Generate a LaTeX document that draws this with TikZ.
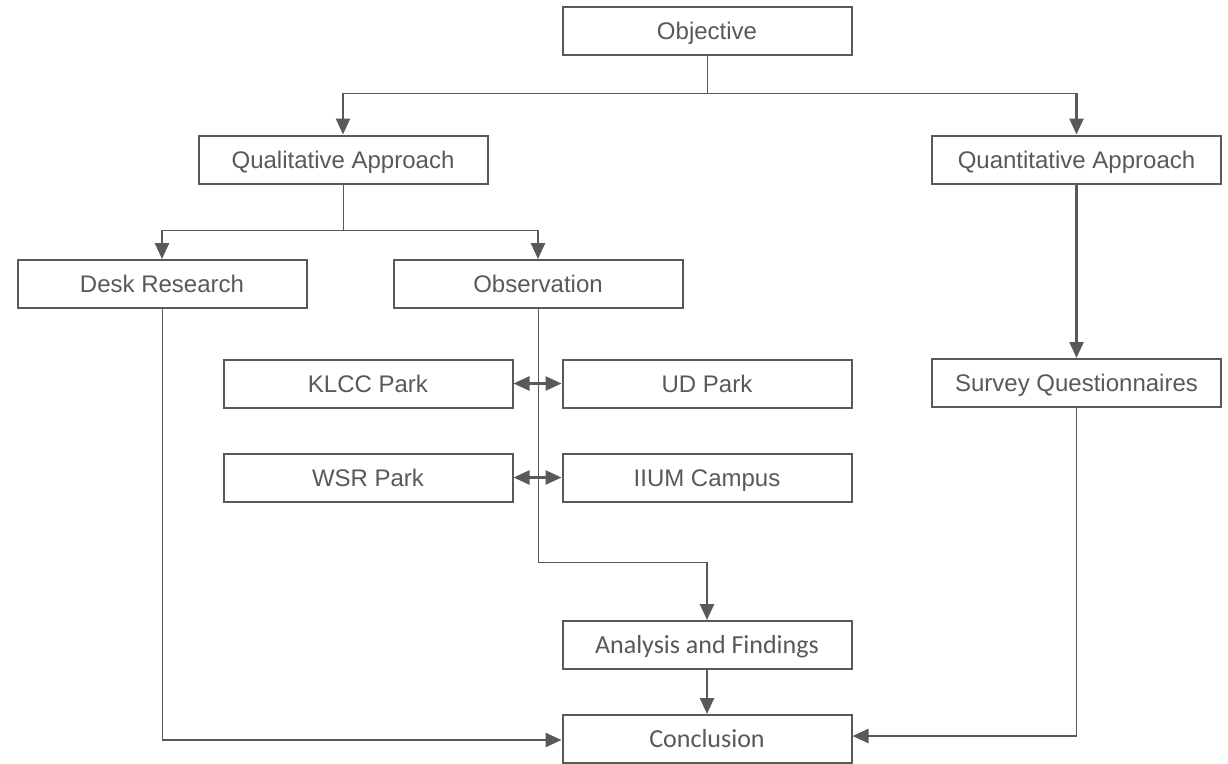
\documentclass[tikz,border=0pt]{standalone}
\usepackage{fontspec}
\setmainfont{Liberation Sans}
\newfontfamily\calibrifont{Carlito}
\usetikzlibrary{arrows.meta}
\definecolor{ink}{HTML}{595959}
\begin{document}
\begin{tikzpicture}[x=1pt,y=-1pt,
  box/.style={draw=ink, line width=2pt, text=ink, minimum width=289pt, minimum height=48pt, inner sep=0pt, text height=17pt, text depth=0pt, font=\fontsize{24}{28}\selectfont},
  cbox/.style={box, text height=16.5pt, font=\calibrifont\fontsize{26}{30}\selectfont},
  conn/.style={draw=ink, line width=1pt},
  arr/.style={draw=ink, line width=2.5pt, -{Triangle[length=16pt,width=14pt]}},
  darr/.style={draw=ink, line width=2.5pt, {Triangle[length=16pt,width=14pt]}-{Triangle[length=16pt,width=14pt]}}]
\useasboundingbox (0,0) rectangle (1228,763);
\fill[white] (0,0) rectangle (1228,763);

\node[box] (obj) at (707,31) {Objective};
\node[box] (qual) at (343,159.5) {Qualitative Approach};
\node[box] (quan) at (1076.5,159.5) {Quantitative Approach};
\node[box] (desk) at (162,284) {Desk Research};
\node[box] (obs) at (538,284) {Observation};
\node[box] (klcc) at (368,383.5) {KLCC Park};
\node[box] (ud) at (707,383.5) {UD Park};
\node[box] (surv) at (1076.5,383) {Survey Questionnaires};
\node[box] (wsr) at (368,477.5) {WSR Park};
\node[box] (iium) at (707,477.5) {IIUM Campus};
\node[cbox] (ana) at (707,645) {Analysis and Findings};
\node[cbox] (conc) at (707,739) {Conclusion};

\coordinate (t1) at (707,93);
\coordinate (tq) at (343,93);
\coordinate (tn) at (1076.5,93);
\coordinate (t2) at (343,230);
\coordinate (td) at (162,230);
\coordinate (to) at (538,230);
\coordinate (dl) at (162,740);
\coordinate (sr) at (1076.5,736);
\coordinate (o1) at (538,562);
\coordinate (o2) at (707,562);

% Objective branches
\draw[conn] (obj.south) -- (t1);
\draw[conn] (tq) -- (tn);
\draw[arr] (tq) -- (qual.north);
\draw[arr] (tn) -- (quan.north);

% Qualitative branches
\draw[conn] (qual.south) -- (t2);
\draw[conn] (td) -- (to);
\draw[arr] (td) -- (desk.north);
\draw[arr] (to) -- (obs.north);

% Quantitative
\draw[arr] (quan.south) -- (surv.north);

% Parks
\draw[darr] (klcc.east) -- (ud.west);
\draw[darr] (wsr.east) -- (iium.west);

% Observation to analysis
\draw[conn] (obs.south) -- (o1) -- (o2);
\draw[arr] (o2) -- (ana.north);
\draw[arr] (ana.south) -- (conc.north);

% Desk research to conclusion
\draw[conn] (desk.south) -- (dl);
\draw[arr] (dl) -- (dl -| conc.west);

% Survey to conclusion
\draw[conn] (surv.south) -- (sr);
\draw[arr] (sr) -- (sr -| conc.east);
\end{tikzpicture}
\end{document}
